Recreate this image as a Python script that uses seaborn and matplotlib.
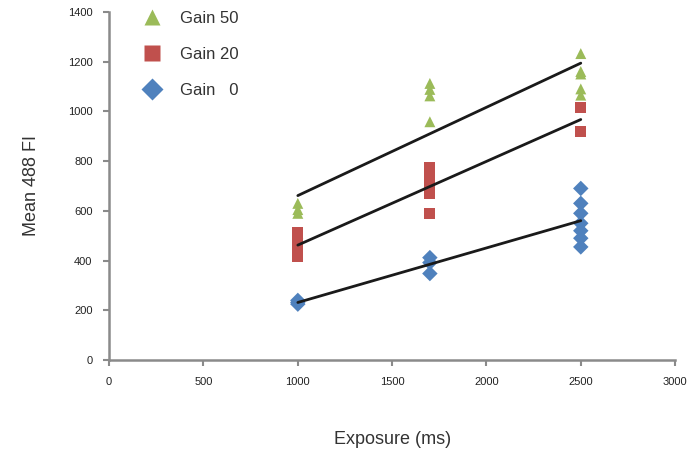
import numpy as np
import pandas as pd
import matplotlib
matplotlib.use("Agg")
import matplotlib.pyplot as plt
import seaborn as sns

# Measured mean 488 fluorescence by exposure time, for three gain settings
exposure_g50 = [1000, 1000, 1000, 1000, 1700, 1700, 1700, 1700, 2500, 2500, 2500, 2500, 2500]
mean_g50 = [630, 605, 590, 510, 1112, 1088, 1062, 958, 1232, 1160, 1150, 1090, 1065]

exposure_g20 = [1000, 1000, 1000, 1000, 1700, 1700, 1700, 1700, 1700, 1700, 2500, 2500]
mean_g20 = [512, 480, 440, 418, 775, 745, 715, 690, 670, 590, 1015, 920]

exposure_g0 = [1000, 1000, 1000, 1700, 1700, 1700, 2500, 2500, 2500, 2500, 2500, 2500, 2500]
mean_g0 = [240, 232, 225, 412, 392, 348, 690, 630, 590, 550, 520, 490, 455]

series_labels = ["Gain 50", "Gain 20", "Gain   0"]
x_ticks = [0, 500, 1000, 1500, 2000, 2500, 3000]
y_ticks = [0, 200, 400, 600, 800, 1000, 1200, 1400]

frames = []
for lab, xs, ys in zip(series_labels,
                       [exposure_g50, exposure_g20, exposure_g0],
                       [mean_g50, mean_g20, mean_g0]):
    frames.append(pd.DataFrame({"exposure": xs, "mean": ys, "series": lab}))
df = pd.concat(frames, ignore_index=True)

sns.set_theme(style="white")
plt.rcParams["font.family"] = ["Liberation Sans", "DejaVu Sans"]

fig = plt.figure(figsize=(6.91, 4.53), dpi=100)
ax = fig.add_axes([0.158, 0.205, 0.819, 0.769])

palette = {"Gain 50": "#9BBB59", "Gain 20": "#C0504D", "Gain   0": "#4F81BD"}
markers = {"Gain 50": "^", "Gain 20": "s", "Gain   0": "D"}

sns.scatterplot(data=df, x="exposure", y="mean", hue="series", style="series",
                palette=palette, markers=markers, hue_order=series_labels,
                style_order=series_labels, s=62, edgecolor="none", ax=ax,
                zorder=2)

# Linear trend per gain setting
for lab in series_labels:
    sub = df[df["series"] == lab]
    sns.regplot(data=sub, x="exposure", y="mean", scatter=False, ci=None,
                truncate=True, color="#1a1a1a", line_kws={"lw": 2, "zorder": 3},
                ax=ax)

ax.set_xlim(0, 3000)
ax.set_ylim(0, 1400)
ax.set_xticks(x_ticks)
ax.set_yticks(y_ticks)
ax.set_xticklabels([str(t) for t in x_ticks])
ax.set_yticklabels([str(t) for t in y_ticks])
ax.tick_params(axis="both", labelsize=8, colors="#8a8a8a", labelcolor="#222222",
               length=4, width=1.5, direction="out", bottom=True, left=True, pad=8)

for side in ["top", "right"]:
    ax.spines[side].set_visible(False)
for side in ["left", "bottom"]:
    ax.spines[side].set_color("#8a8a8a")
    ax.spines[side].set_linewidth(1.8)

ax.set_xlabel("Exposure (ms)", fontsize=13, color="#333333", labelpad=32)
ax.set_ylabel("Mean 488 FI", fontsize=13, color="#333333", labelpad=20)

leg = ax.legend(loc="upper left", bbox_to_anchor=(0.02, 1.045), frameon=False,
                fontsize=12, markerscale=1.45, handletextpad=0.7,
                labelspacing=1.25, labelcolor="#333333")

fig.savefig("out.png", dpi=100)
